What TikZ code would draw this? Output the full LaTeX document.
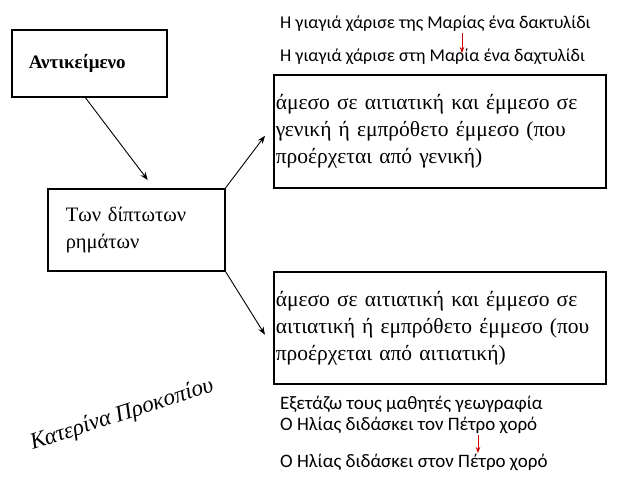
\documentclass[tikz,border=0pt]{standalone}
\usepackage{fontspec}
\setmainfont{Liberation Serif}
\newfontfamily\sansgr{Carlito}
\usetikzlibrary{arrows.meta}
\tikzset{
  box/.style={draw=black,line width=1.5pt,rectangle,anchor=north west,align=left},
  arr/.style={draw=black,line width=0.9pt,-{Stealth[length=8pt,width=6pt]}},
  redarr/.style={draw=red!80!black,line width=0.9pt,-{Stealth[length=6pt,width=4.5pt]}},
  line/.style={anchor=west,inner sep=0pt,font=\sansgr\fontsize{18}{20}\selectfont}
}
\begin{document}
\begin{tikzpicture}[x=1pt,y=-1pt]
\useasboundingbox (0,0) rectangle (638,479);
% boxes
\node[box,inner xsep=17pt,text width=121pt,minimum height=67pt,font=\bfseries\fontsize{19}{22}\selectfont] (obj) at (11,29) {Αντικείμενο};
\node[box,inner xsep=18pt,text width=141pt,minimum height=82pt,font=\fontsize{20.5}{27}\selectfont] (verb) at (47,188) {Των δίπτωτων\\ρημάτων};
\node[box,inner xsep=2pt,text width=328pt,minimum height=113pt,font=\fontsize{21.5}{27}\selectfont] (gen) at (273,74) {άμεσο σε αιτιατική και έμμεσο σε\\γενική ή εμπρόθετο έμμεσο (που\\προέρχεται από γενική)};
\node[box,inner xsep=2pt,text width=328pt,minimum height=112pt,font=\fontsize{21.5}{27}\selectfont] (acc) at (273,271) {άμεσο σε αιτιατική και έμμεσο σε\\αιτιατική ή εμπρόθετο έμμεσο (που\\προέρχεται από αιτιατική)};
% arrows
\draw[arr] ([xshift=-4pt]obj.south) -- ([xshift=11.5pt,yshift=8pt]verb.north);
\draw[arr] (verb.north east) -- ([xshift=-8pt,yshift=-4.5pt]gen.west);
\draw[arr] (verb.south east) -- ([xshift=-8pt,yshift=-7pt]acc.west);
% examples
\node[line] (ex1) at (280,24) {Η γιαγιά χάρισε της Μαρίας ένα δακτυλίδι};
\node[line] (ex2) at (280,57) {Η γιαγιά χάρισε στη Μαρία ένα δαχτυλίδι};
\node[line,font=\sansgr\fontsize{19}{20}\selectfont] (ex3) at (280,404) {Εξετάζω τους μαθητές γεωγραφία};
\node[line,font=\sansgr\fontsize{19}{20}\selectfont] (ex4) at (280,425) {Ο Ηλίας διδάσκει τον Πέτρο χορό};
\node[line,font=\sansgr\fontsize{19}{20}\selectfont] (ex5) at (280,462) {Ο Ηλίας διδάσκει στον Πέτρο χορό};
\coordinate (r1a) at (462,33);
\coordinate (r1b) at (462,53);
\coordinate (r2a) at (478,435);
\coordinate (r2b) at (478,453);
\draw[redarr] (r1a) -- (r1b);
\draw[redarr] (r2a) -- (r2b);
% signature
\node[rotate=18,font=\itshape\fontsize{23}{26}\selectfont] (sign) at (122,415) {Κατερίνα Προκοπίου};
\end{tikzpicture}
\end{document}
